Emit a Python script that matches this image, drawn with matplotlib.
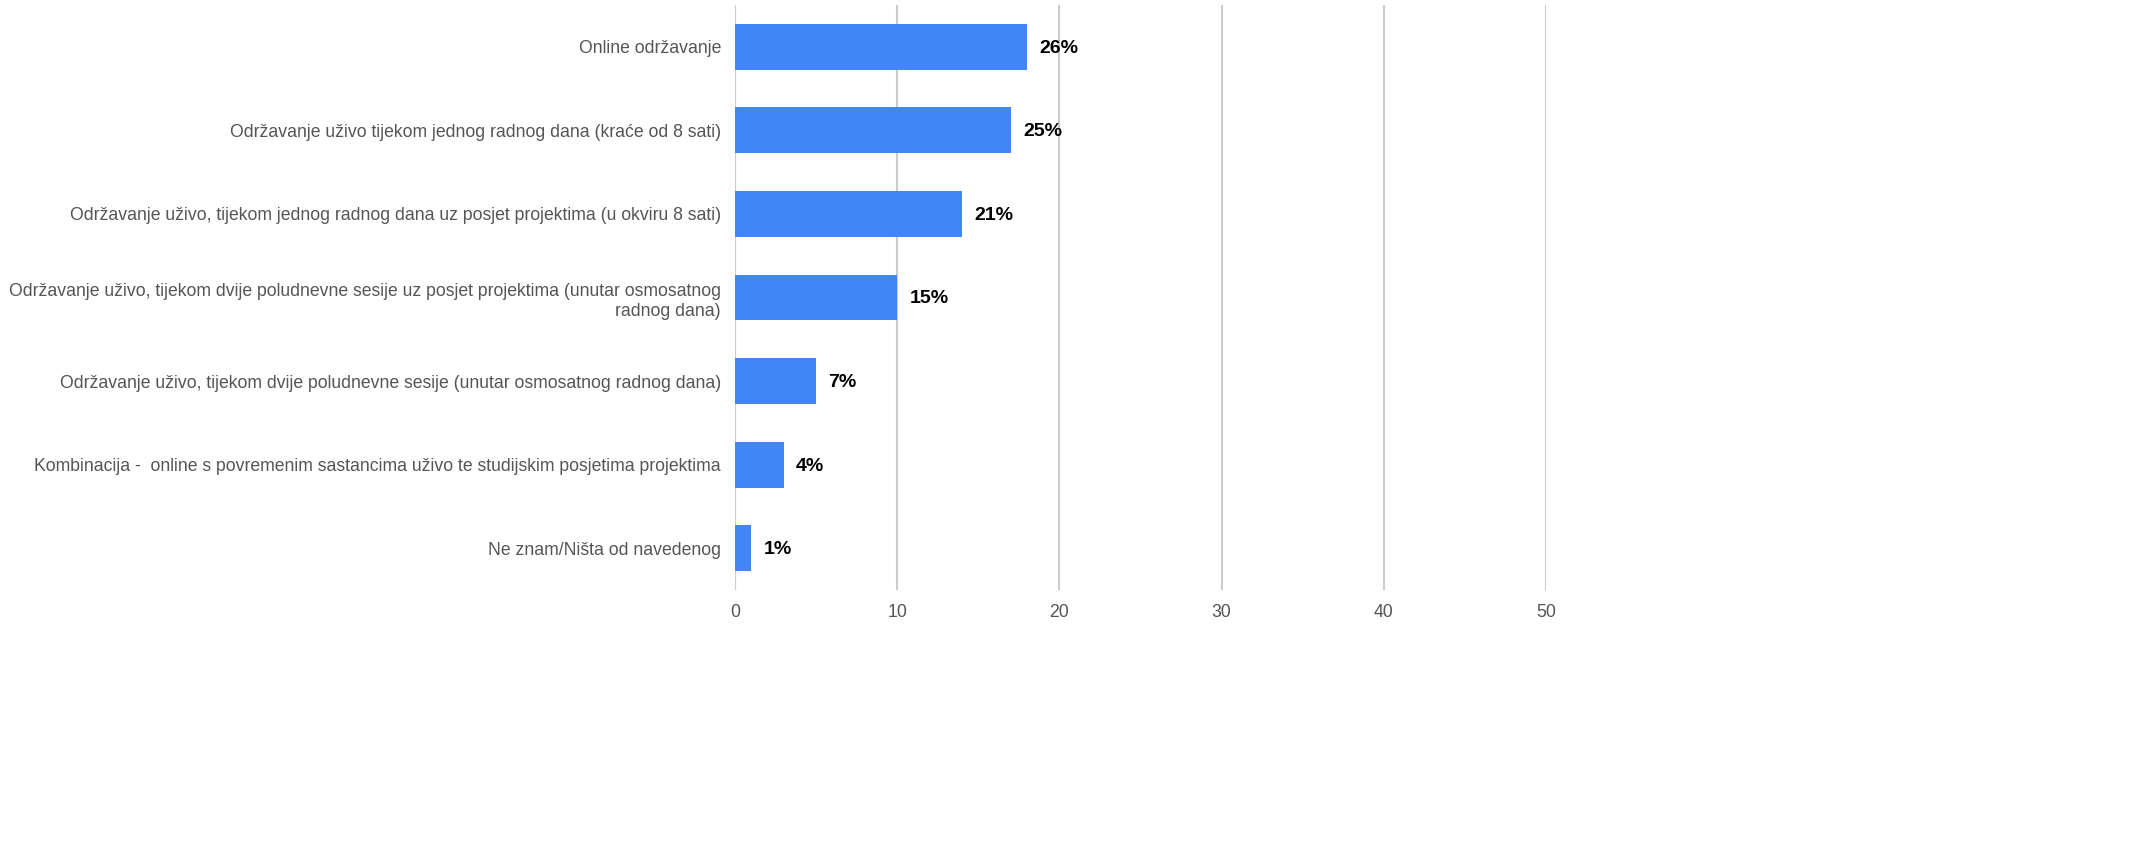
import matplotlib
matplotlib.use("Agg")
import matplotlib.pyplot as plt

categories = [
    "Online održavanje",
    "Održavanje uživo tijekom jednog radnog dana (kraće od 8 sati)",
    "Održavanje uživo, tijekom jednog radnog dana uz posjet projektima (u okviru 8 sati)",
    "Održavanje uživo, tijekom dvije poludnevne sesije uz posjet projektima (unutar osmosatnog\nradnog dana)",
    "Održavanje uživo, tijekom dvije poludnevne sesije (unutar osmosatnog radnog dana)",
    "Kombinacija -  online s povremenim sastancima uživo te studijskim posjetima projektima",
    "Ne znam/Ništa od navedenog",
]
values = [18, 17, 14, 10, 5, 3, 1]
pct_labels = ["26%", "25%", "21%", "15%", "7%", "4%", "1%"]
xticks = [0, 10, 20, 30, 40, 50]

plt.rcParams['font.family'] = ['Liberation Sans', 'DejaVu Sans']

fig = plt.figure(figsize=(21.44, 8.47), dpi=100)
ax = fig.add_axes([735/2144, 1-590/847, (1546-735)/2144, (590-5)/847])

y = list(range(len(categories)))
ax.barh(y, values, height=0.55, color="#4285F4", zorder=3)
for yi, v, lab in zip(y, values, pct_labels):
    ax.annotate(lab, (v, yi), xytext=(9, -1), textcoords="offset points",
                va="center", ha="left", fontsize=14, fontweight="bold", color="#000000")

ax.set_xlim(0, 50)
ax.set_ylim(len(categories)-0.5, -0.5)
ax.set_xticks(xticks)
ax.set_xticklabels([str(t) for t in xticks])
ax.set_yticks(y)
ax.set_yticklabels(categories, ha="right", linespacing=1.25)
ax.tick_params(axis="y", length=0, pad=10, labelsize=12.7, labelcolor="#555555")
ax.tick_params(axis="x", length=0, pad=10, labelsize=12.7, labelcolor="#555555")
ax.grid(axis="x", color="#cccccc", linewidth=1.5, zorder=0)
for s in ax.spines.values():
    s.set_visible(False)
ax.axvline(0, color="#cccccc", linewidth=1.5, zorder=1)

fig.savefig("out.png", dpi=100)
